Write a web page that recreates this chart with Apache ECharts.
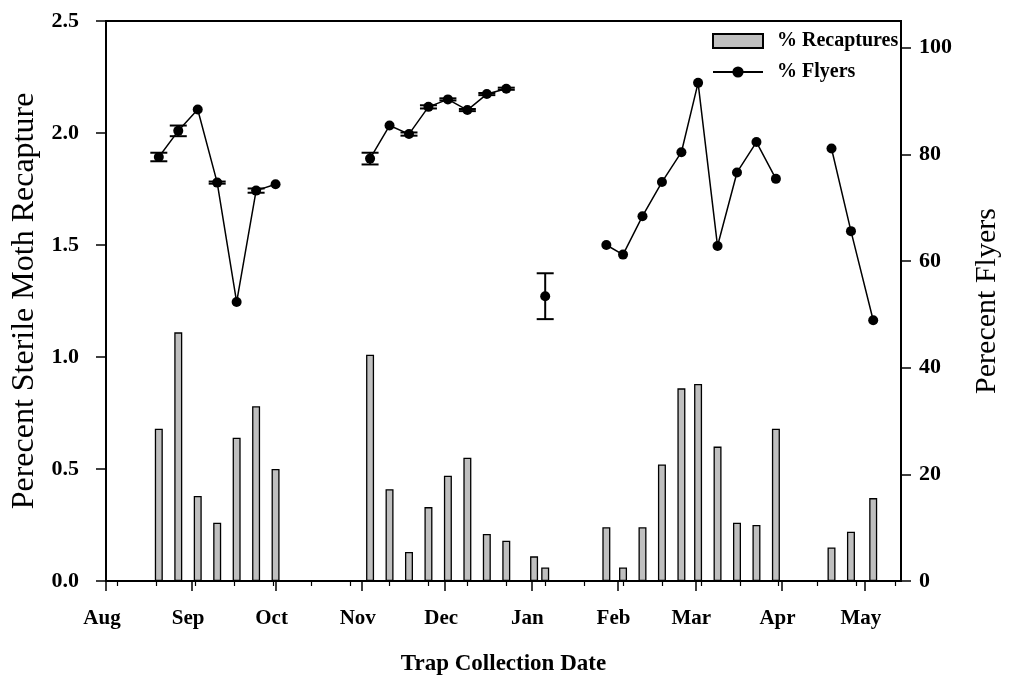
<!DOCTYPE html>
<html><head><meta charset="utf-8">
<script src="https://cdn.jsdelivr.net/npm/echarts@6/dist/echarts.min.js"></script>
<style>html,body{margin:0;padding:0;background:#fff}#c{width:1010px;height:681px}</style>
</head><body><div id="c"></div>
<script>
// ---- data ----
const dates = [
  '2016-08-20','2016-08-27','2016-09-03','2016-09-10','2016-09-17','2016-09-24','2016-10-01',
  '2016-11-04','2016-11-11','2016-11-18','2016-11-25','2016-12-02','2016-12-09','2016-12-16','2016-12-23',
  '2017-01-02','2017-01-06',
  '2017-01-28','2017-02-03','2017-02-10','2017-02-17','2017-02-24','2017-03-02','2017-03-09','2017-03-16','2017-03-23','2017-03-30',
  '2017-04-19','2017-04-26','2017-05-04'
];
const recaptures = [
  0.68,1.11,0.38,0.26,0.64,0.78,0.50,
  1.01,0.41,0.13,0.33,0.47,0.55,0.21,0.18,
  0.11,0.06,
  0.24,0.06,0.24,0.52,0.86,0.88,0.60,0.26,0.25,0.68,
  0.15,0.22,0.37
];
const flyers = [
  79.5,84.4,88.4,74.7,52.3,73.2,74.4,
  79.2,85.4,83.8,88.9,90.3,88.3,91.3,92.3,
  null,53.4,
  63.0,61.2,68.4,74.8,80.4,93.4,62.8,76.6,82.3,75.4,
  81.1,65.6,48.9
];
const flyersErr = [
  0.8,1.0,null,0.2,null,0.4,null,
  1.1,null,0.3,0.3,0.2,0.2,0.2,0.2,
  null,4.3,
  null,null,null,null,null,null,null,null,null,null,
  null,null,null
];
const monthTicks = ['2016-08-01','2016-09-01','2016-10-01','2016-11-01','2016-12-01','2017-01-01','2017-02-01','2017-03-01','2017-04-01','2017-05-01'];
const monthLabels = ['Aug','Sep','Oct','Nov','Dec','Jan','Feb','Mar','Apr','May'];
const xMin = '2016-08-01', xMax = '2017-05-14';
const minorStart = '2016-08-05', minorStepDays = 14;
const rightTicks = [0,20,40,60,80,100];

// ---- helpers ----
const DAY = 86400000;
function ts(s){const p=s.split('-').map(Number);return Date.UTC(p[0],p[1]-1,p[2]);}
const monthTs = monthTicks.map(ts);
const minorTs = [];
for (let t = ts(minorStart); t <= ts(xMax); t += minorStepDays*DAY) minorTs.push(t);

const barData = dates.map((d,i)=>[ts(d), recaptures[i]]);
const lineData = [];
let prevT = null;
dates.forEach((d,i)=>{
  const t = ts(d);
  if (prevT !== null && t - prevT > 10*DAY) lineData.push([(t+prevT)/2, null]);
  lineData.push([t, flyers[i]]);
  prevT = t;
});
const errData = [];
dates.forEach((d,i)=>{ if (flyersErr[i] != null && flyers[i] != null) errData.push([ts(d), flyers[i], flyersErr[i]]); });

const FONT = 'Liberation Serif';
const chart = echarts.init(document.getElementById('c'), null, {renderer:'canvas'});
chart.setOption({
  animation:false,
  backgroundColor:'#fff',
  grid:{left:106,right:105,top:21,bottom:100,show:true,borderColor:'#000',borderWidth:2,backgroundColor:'transparent'},
  legend:{
    orient:'vertical', left:707, top:26, itemWidth:50, itemHeight:14, itemGap:11,
    textStyle:{fontFamily:FONT,fontWeight:'bold',fontSize:20,color:'#000',padding:[0,0,0,9]},
    data:[{name:'% Recaptures',icon:'rect'},{name:'% Flyers'}]
  },
  xAxis:[
    {type:'value',min:ts(xMin),max:ts(xMax),
     name:'Trap Collection Date',nameLocation:'middle',nameGap:72,
     nameTextStyle:{fontFamily:FONT,fontWeight:'bold',fontSize:23,color:'#000'},
     axisLine:{show:true,onZero:false,lineStyle:{color:'#000',width:2}},
     axisTick:{show:true,length:10,lineStyle:{color:'#000',width:1.5},customValues:monthTs},
     axisLabel:{show:true,customValues:monthTs,margin:27,fontFamily:FONT,fontWeight:'bold',fontSize:21,color:'#000',
       padding:[0,8,0,0],
       formatter:function(v){const i=monthTs.indexOf(v);return i>=0?monthLabels[i]:'';}},
     splitLine:{show:false}},
    {type:'value',min:ts(xMin),max:ts(xMax),position:'bottom',
     axisLine:{show:false,onZero:false},
     axisTick:{show:true,length:5,lineStyle:{color:'#000',width:1.2},customValues:minorTs},
     axisLabel:{show:false},splitLine:{show:false}}
  ],
  yAxis:[
    {type:'value',min:0,max:2.5,interval:0.5,position:'left',
     name:'Perecent Sterile Moth Recapture',nameLocation:'middle',nameGap:61,nameRotate:90,
     nameTextStyle:{fontFamily:FONT,fontSize:32,color:'#000'},
     axisLine:{show:true,lineStyle:{color:'#000',width:2}},
     axisTick:{show:true,length:10,lineStyle:{color:'#000',width:1.5}},
     axisLabel:{margin:27,fontFamily:FONT,fontWeight:'bold',fontSize:22,color:'#000',formatter:v=>v.toFixed(1)},
     splitLine:{show:false}},
    {type:'value',min:0,max:105,position:'right',
     name:'Perecent Flyers',nameLocation:'middle',nameGap:71,nameRotate:90,
     nameTextStyle:{fontFamily:FONT,fontSize:30,color:'#000'},
     axisLine:{show:true,lineStyle:{color:'#000',width:2}},
     axisTick:{show:true,length:10,lineStyle:{color:'#000',width:1.5},customValues:rightTicks},
     axisLabel:{margin:18,fontFamily:FONT,fontWeight:'bold',fontSize:22,color:'#000',customValues:rightTicks},
     splitLine:{show:false}}
  ],
  series:[
    {name:'% Recaptures',type:'bar',xAxisIndex:0,yAxisIndex:0,data:barData,barWidth:8,
     itemStyle:{color:'#bfbfbf',borderColor:'#000',borderWidth:1.3}},
    {name:'% Flyers',type:'line',xAxisIndex:0,yAxisIndex:1,data:lineData,connectNulls:false,
     symbol:'circle',symbolSize:10,showSymbol:true,
     lineStyle:{color:'#000',width:1.5},itemStyle:{color:'#000'},z:5},
    {name:'err',type:'custom',xAxisIndex:0,yAxisIndex:1,data:errData,z:6,
     renderItem:function(params,api){
       const x=api.value(0),y=api.value(1),e=api.value(2);
       const top=api.coord([x,y+e]),bot=api.coord([x,y-e]);
       const hw=8.5;
       const st={stroke:'#000',lineWidth:2};
       return {type:'group',children:[
         {type:'line',shape:{x1:top[0],y1:top[1],x2:bot[0],y2:bot[1]},style:st},
         {type:'line',shape:{x1:top[0]-hw,y1:top[1],x2:top[0]+hw,y2:top[1]},style:st},
         {type:'line',shape:{x1:bot[0]-hw,y1:bot[1],x2:bot[0]+hw,y2:bot[1]},style:st}
       ]};
     }}
  ]
});
</script></body></html>
